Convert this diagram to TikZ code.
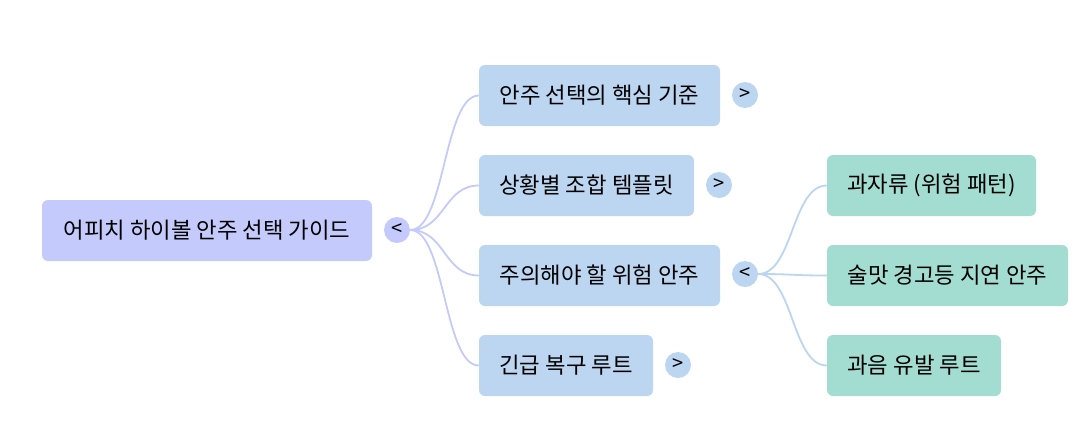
\documentclass[tikz,border=0pt]{standalone}
\usepackage{fontspec}
\setmainfont{Noto Sans CJK KR}
\usetikzlibrary{calc,backgrounds}
\definecolor{rootc}{HTML}{C5CAFC}
\definecolor{levc}{HTML}{BCD5F0}
\definecolor{leafc}{HTML}{A3DCD1}
\begin{document}
\begin{tikzpicture}[x=1pt,y=-1pt,
  box/.style={rounded corners=6pt,inner sep=0pt,font=\fontsize{22.3}{26}\selectfont,text=black},
  tog/.style={circle,minimum size=26pt,inner sep=0pt,font=\fontsize{20}{22}\selectfont},
  edge1/.style={draw=rootc,line width=1.8pt},
  edge2/.style={draw=levc,line width=1.8pt}]
\useasboundingbox (0,0) rectangle (1090,445);
% root
\node[box,fill=rootc,minimum width=330pt,minimum height=61pt] (root) at (207,230.5) {어피치 하이볼 안주 선택 가이드};
\node[tog,fill=rootc] (rt) at (397,230) {<};
% level 1
\node[box,fill=levc,minimum width=241pt,minimum height=61pt] (a) at (599.5,95.5) {안주 선택의 핵심 기준};
\node[box,fill=levc,minimum width=215pt,minimum height=61pt] (b) at (586.5,185.5) {상황별 조합 템플릿};
\node[box,fill=levc,minimum width=241pt,minimum height=61pt] (c) at (599.5,275.5) {주의해야 할 위험 안주};
\node[box,fill=levc,minimum width=174pt,minimum height=61pt] (d) at (566,365.5) {긴급 복구 루트};
\node[tog,fill=levc] (at) at (745,95) {>};
\node[tog,fill=levc] (bt) at (719,185) {>};
\node[tog,fill=levc] (ct) at (745,274) {<};
\node[tog,fill=levc] (dt) at (678,365) {>};
% level 2
\node[box,fill=leafc,minimum width=209pt,minimum height=61pt] (e) at (931.5,185.5) {과자류 (위험 패턴)};
\node[box,fill=leafc,minimum width=241pt,minimum height=61pt] (f) at (947.5,275.5) {술맛 경고등 지연 안주};
\node[box,fill=leafc,minimum width=174pt,minimum height=61pt] (g) at (914,365.5) {과음 유발 루트};
% edges
\begin{scope}[on background layer]
\foreach \n in {a,b,c,d}{
  \draw[edge1] (rt.east) .. controls ($(rt.east)+(35,0)$) and ($(\n.west)+(-35,0)$) .. (\n.west);
}
\foreach \n in {e,f,g}{
  \draw[edge2] (ct.east) .. controls ($(ct.east)+(35,0)$) and ($(\n.west)+(-35,0)$) .. (\n.west);
}
\end{scope}
\end{tikzpicture}
\end{document}
